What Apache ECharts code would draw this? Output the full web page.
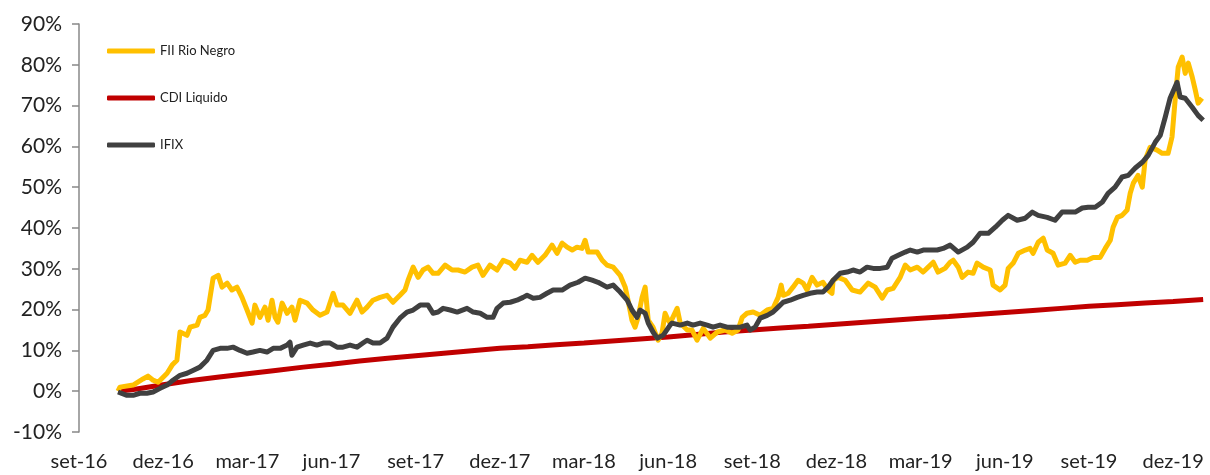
<!DOCTYPE html>
<html>
<head>
<meta charset="utf-8">
<script src="https://cdn.jsdelivr.net/npm/echarts@6/dist/echarts.min.js"></script>
<style>
html,body{margin:0;padding:0;background:#fff;}
#chart{width:1210px;height:475px;}
</style>
</head>
<body>
<div id="chart"></div>
<script>
// x = months since set-16, y = cumulative return in %
const xTickLabels = ["set-16","dez-16","mar-17","jun-17","set-17","dez-17","mar-18","jun-18","set-18","dez-18","mar-19","jun-19","set-19","dez-19"];
const seriesNames = ["FII Rio Negro", "CDI Liquido", "IFIX"];

const fiiRioNegro = [[1.39,0],[1.46,1.0],[1.93,1.5],[2.28,3.0],[2.46,3.7],[2.64,2.7],[2.82,2.2],[3.14,4.4],[3.32,6.4],[3.49,7.6],[3.60,14.5],[3.85,13.7],[3.96,15.7],[4.21,16.2],[4.31,18.1],[4.49,18.6],[4.60,19.9],[4.78,27.7],[4.96,28.4],[5.10,25.5],[5.28,26.5],[5.45,24.8],[5.63,25.5],[5.81,23.0],[5.99,19.9],[6.17,16.7],[6.27,21.1],[6.45,18.1],[6.63,20.6],[6.74,17.4],[6.88,22.3],[6.99,18.1],[7.09,16.9],[7.24,21.6],[7.42,19.1],[7.59,20.6],[7.70,17.4],[7.88,22.3],[8.13,21.6],[8.34,19.9],[8.59,18.6],[8.84,19.4],[9.06,24.0],[9.20,21.1],[9.41,21.1],[9.66,19.1],[9.91,22.3],[10.09,19.4],[10.27,20.6],[10.48,22.3],[10.73,23.0],[10.98,23.5],[11.19,21.8],[11.44,23.5],[11.62,24.8],[11.73,27.2],[11.91,30.4],[12.09,27.9],[12.26,29.7],[12.44,30.4],[12.62,28.9],[12.80,28.9],[13.05,30.9],[13.30,29.7],[13.51,29.7],[13.76,29.2],[14.01,30.4],[14.22,30.9],[14.40,28.4],[14.65,30.9],[14.90,29.7],[15.12,32.1],[15.37,31.4],[15.54,30.1],[15.72,32.1],[15.97,31.6],[16.15,33.3],[16.36,31.6],[16.61,33.3],[16.86,35.8],[17.04,33.8],[17.22,36.3],[17.40,35.3],[17.58,34.6],[17.75,35.3],[17.93,35.0],[18.04,37.0],[18.15,34.1],[18.47,34.1],[18.65,32.1],[18.82,30.9],[19.04,30.4],[19.29,28.4],[19.47,25.5],[19.57,22.3],[19.71,17.4],[19.82,15.7],[19.93,18.1],[20.07,23.0],[20.18,25.5],[20.29,17.4],[20.46,15.7],[20.64,12.5],[20.78,14.2],[20.89,19.1],[21.00,17.4],[21.07,16.7],[21.32,20.3],[21.43,16.7],[21.68,15.0],[21.85,15.0],[22.03,12.5],[22.25,15.4],[22.50,13.0],[22.75,14.5],[23.03,15.0],[23.28,14.2],[23.49,15.0],[23.64,18.1],[23.81,19.1],[24.03,19.4],[24.28,18.6],[24.53,19.9],[24.74,20.3],[24.92,23.0],[25.03,26.0],[25.10,23.5],[25.28,24.0],[25.45,25.5],[25.63,27.2],[25.81,26.5],[25.95,24.8],[26.13,27.9],[26.31,26.0],[26.52,26.7],[26.70,24.8],[26.84,24.0],[26.88,27.2],[27.06,27.9],[27.31,27.2],[27.56,24.8],[27.84,24.3],[28.13,26.5],[28.38,25.5],[28.63,22.8],[28.81,24.8],[29.02,25.2],[29.27,27.9],[29.45,30.9],[29.63,29.7],[29.88,30.4],[30.09,29.2],[30.27,30.4],[30.45,31.6],[30.62,29.2],[30.87,30.1],[31.05,31.6],[31.16,32.1],[31.34,30.4],[31.48,27.9],[31.69,29.2],[31.87,28.9],[32.01,31.4],[32.23,30.4],[32.48,29.7],[32.58,26.0],[32.83,24.8],[33.01,26.0],[33.12,30.1],[33.30,31.4],[33.48,33.8],[33.73,34.6],[33.90,35.0],[34.01,33.8],[34.19,36.5],[34.37,37.5],[34.51,34.6],[34.72,33.8],[34.90,30.9],[35.15,31.4],[35.33,33.3],[35.51,31.6],[35.69,32.1],[35.94,32.1],[36.15,32.8],[36.40,32.8],[36.58,35.0],[36.76,37.0],[36.86,40.2],[37.01,42.6],[37.18,43.1],[37.36,44.4],[37.47,48.5],[37.58,51.0],[37.75,52.9],[37.90,50.0],[38.00,56.6],[38.18,59.8],[38.43,59.1],[38.61,58.3],[38.82,58.3],[38.96,62.3],[39.07,71.3],[39.18,79.4],[39.32,81.9],[39.43,77.9],[39.54,80.4],[39.68,77.0],[39.79,73.8],[39.89,70.6],[40.03,71.8]];

const cdiLiquido = [[1.39,0],[2,0.5],[3,1.6],[4,2.6],[5,3.5],[6,4.3],[7,5.1],[8,5.9],[9,6.6],[10,7.4],[11,8.1],[12,8.7],[13,9.3],[14,9.9],[15,10.5],[16,10.9],[17,11.4],[18,11.8],[19,12.3],[20,12.8],[21,13.3],[22,13.9],[23,14.5],[24,15.0],[25,15.5],[26,15.9],[27,16.4],[28,16.9],[29,17.4],[30,17.9],[31,18.3],[32,18.8],[33,19.3],[34,19.8],[35,20.3],[36,20.8],[37,21.2],[38,21.6],[39,22.0],[40.07,22.5]];

const ifix = [[1.39,-0.2],[1.71,-1.0],[1.93,-1.0],[2.17,-0.5],[2.42,-0.5],[2.64,-0.2],[2.89,0.7],[3.14,1.5],[3.35,2.7],[3.60,3.9],[3.85,4.4],[4.06,5.1],[4.31,5.9],[4.56,7.6],[4.78,10.0],[5.03,10.5],[5.28,10.5],[5.49,10.8],[5.74,10.0],[5.99,9.3],[6.20,9.6],[6.45,10.0],[6.70,9.6],[6.92,10.5],[7.17,10.5],[7.42,11.3],[7.52,12.0],[7.59,8.8],[7.77,10.8],[7.99,11.3],[8.24,11.8],[8.48,11.3],[8.70,11.8],[8.95,11.8],[9.20,10.8],[9.41,10.8],[9.66,11.3],[9.91,10.8],[10.12,11.8],[10.27,12.5],[10.48,11.8],[10.73,11.8],[10.98,13.0],[11.19,15.7],[11.44,17.9],[11.69,19.4],[11.91,19.9],[12.16,21.1],[12.44,21.1],[12.62,19.1],[12.80,19.4],[12.98,20.3],[13.23,19.9],[13.48,19.4],[13.83,20.3],[14.05,19.4],[14.30,19.1],[14.55,18.1],[14.76,18.1],[14.90,20.3],[15.12,21.6],[15.37,21.8],[15.61,22.3],[15.83,23.0],[15.97,23.5],[16.19,22.8],[16.43,23.0],[16.68,24.0],[16.90,24.8],[17.22,24.8],[17.50,26.0],[17.79,26.7],[18.04,27.7],[18.29,27.2],[18.50,26.7],[18.82,25.5],[19.04,26.0],[19.29,24.3],[19.54,22.3],[19.71,19.9],[19.89,18.1],[20.00,19.9],[20.18,19.1],[20.29,16.7],[20.46,14.5],[20.61,13.0],[20.82,13.7],[21.07,16.2],[21.14,16.7],[21.43,16.2],[21.68,16.7],[21.89,16.2],[22.14,16.7],[22.39,16.2],[22.60,15.7],[22.85,16.2],[23.10,15.7],[23.32,15.7],[23.57,15.7],[23.81,16.2],[23.92,15.0],[24.10,15.7],[24.28,17.9],[24.53,18.6],[24.74,19.4],[24.92,20.6],[25.10,21.8],[25.35,22.3],[25.60,23.0],[25.81,23.5],[26.06,24.0],[26.31,24.3],[26.52,24.3],[26.70,25.5],[26.88,27.2],[27.13,28.9],[27.38,29.2],[27.59,29.7],[27.84,29.2],[28.09,30.4],[28.31,30.1],[28.56,30.1],[28.81,30.4],[28.98,32.6],[29.20,33.3],[29.45,34.1],[29.63,34.6],[29.88,34.1],[30.09,34.6],[30.34,34.6],[30.59,34.6],[30.80,35.0],[31.05,35.8],[31.34,34.1],[31.66,35.3],[31.87,36.5],[32.12,38.7],[32.41,38.7],[32.66,40.2],[32.91,41.9],[33.12,43.1],[33.44,41.9],[33.73,42.4],[33.98,43.9],[34.19,43.1],[34.51,42.6],[34.79,41.9],[35.04,43.9],[35.26,43.9],[35.51,43.9],[35.76,44.9],[35.97,45.1],[36.22,45.1],[36.47,46.3],[36.68,48.5],[36.93,50.0],[37.18,52.5],[37.40,52.9],[37.65,54.7],[37.90,56.1],[38.11,57.8],[38.36,61.0],[38.54,62.7],[38.72,67.2],[38.89,71.8],[39.14,75.7],[39.25,72.1],[39.43,71.8],[39.68,69.6],[39.89,67.6],[40.07,66.4]];

const colors = {fii: '#FFC000', cdi: '#C00000', ifix: '#404040'};
const fontFamily = 'Lato, "Open Sans", sans-serif';

const chart = echarts.init(document.getElementById('chart'), null, {renderer: 'canvas'});
chart.setOption({
  animation: false,
  backgroundColor: '#ffffff',
  grid: {left: 79, right: 6, top: 24, bottom: 43, containLabel: false},
  legend: {
    data: seriesNames,
    orient: 'vertical',
    left: 102,
    top: 38,
    itemWidth: 48,
    itemHeight: 5,
    itemGap: 31,
    icon: 'roundRect',
    textStyle: {fontFamily: fontFamily, fontSize: 13, color: '#222', lineHeight: 16}
  },
  xAxis: {
    type: 'value',
    min: 0,
    max: 40.1,
    interval: 3,
    axisLine: {show: false, onZero: false},
    axisTick: {show: false},
    splitLine: {show: false},
    axisLabel: {
      showMaxLabel: false,
      margin: 20,
      fontFamily: fontFamily,
      fontSize: 20,
      color: '#222',
      formatter: function (v) {
        const i = Math.round(v / 3);
        return (Math.abs(v - i * 3) < 1e-6 && xTickLabels[i]) ? xTickLabels[i] : '';
      }
    }
  },
  yAxis: {
    type: 'value',
    min: -10,
    max: 90,
    interval: 10,
    axisLine: {show: true, lineStyle: {color: '#888', width: 1.5}},
    axisTick: {show: true, length: 7, lineStyle: {color: '#888', width: 1.5}},
    splitLine: {show: false},
    axisLabel: {
      margin: 17,
      fontFamily: fontFamily,
      fontSize: 21,
      color: '#222',
      formatter: '{value}%'
    }
  },
  series: [
    {name: 'CDI Liquido', type: 'line', data: cdiLiquido, showSymbol: false, symbol: 'none', z: 1,
     lineStyle: {color: colors.cdi, width: 5}, itemStyle: {color: colors.cdi}},
    {name: 'FII Rio Negro', type: 'line', data: fiiRioNegro, showSymbol: false, symbol: 'none', z: 2,
     lineStyle: {color: colors.fii, width: 5, join: 'round'}, itemStyle: {color: colors.fii}},
    {name: 'IFIX', type: 'line', data: ifix, showSymbol: false, symbol: 'none', z: 3,
     lineStyle: {color: colors.ifix, width: 5, join: 'round'}, itemStyle: {color: colors.ifix}}
  ]
});
</script>
</body>
</html>
